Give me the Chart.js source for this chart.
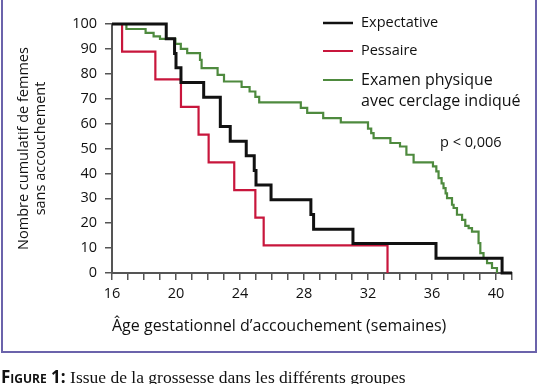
<!DOCTYPE html>
<html>
<head>
<meta charset="utf-8">
<script src="https://cdn.jsdelivr.net/npm/chart.js@4.4.1/dist/chart.umd.min.js"></script>
<style>
  html, body { margin: 0; padding: 0; background: #fff; }
  body { width: 538px; height: 384px; position: relative; overflow: hidden; }
  #frame { position: absolute; left: 1px; top: -10px; width: 532px; height: 359px; border: 2px solid #6b63ab; }
  #km { position: absolute; left: 0; top: 0; }
  #caption { position: absolute; left: 1px; top: 368px; white-space: nowrap; font-size: 17.5px; line-height: 1; color: #111; font-family: "Liberation Serif", serif; }
  #caption b { font-family: "Open Sans", sans-serif; font-variant: small-caps; font-weight: 700; font-size: 17px; }
</style>
</head>
<body>
<div id="frame"></div>
<canvas id="km" width="538" height="384"></canvas>
<div id="caption"><b>Figure 1:</b> Issue de la grossesse dans les différents groupes</div>
<script>
// courbes de survie (semaines, % sans accouchement)
const expWeeks  = [16, 19.39, 19.91, 20.0, 20.31, 21.73, 22.77, 23.39, 24.39, 24.89, 25.0, 25.94, 28.43, 28.6, 31.06, 36.25, 40.38, 41];
const expValues = [100, 94.1, 88.2, 82.4, 76.5, 70.6, 58.8, 52.9, 47.1, 41.2, 35.3, 29.4, 23.5, 17.6, 11.8, 5.9, 0, 0];

const pesWeeks  = [16, 16.63, 18.71, 20.31, 21.41, 22.04, 23.64, 24.96, 25.48, 33.22];
const pesValues = [100, 88.9, 77.8, 66.7, 55.6, 44.4, 33.3, 22.2, 11.1, 0];

const exaWeeks  = [16, 16.9, 18.1, 18.6, 19.0, 19.96, 20.3, 20.7, 21.5, 21.6, 22.6, 23.0, 24.1, 24.6, 24.96, 25.2,
                   27.8, 28.2, 29.2, 30.3, 32.0, 32.2, 32.35, 33.4, 34.0, 34.4, 34.85, 36.06, 36.27, 36.41, 36.6,
                   36.72, 36.85, 36.94, 37.25, 37.35, 37.56, 37.88, 38.08, 38.29, 38.5, 38.91, 39.02, 39.22, 39.44, 39.75, 40.06];
const exaValues = [100, 98, 96.4, 95, 94, 92, 90, 88.3, 85.6, 82.3, 79.6, 76.9, 74.7, 72.9, 70.7, 68.5,
                   66.3, 64.3, 62.2, 60.5, 58, 56.2, 54.2, 52.2, 50.8, 47.5, 44.4, 42.8, 40.8, 38.1, 36,
                   34.1, 32, 30.1, 27.4, 26.1, 23.4, 21.3, 18.9, 18, 16.6, 12, 8, 6, 4, 2, 0];

const seriesNames = ['Expectative', 'Pessaire', ['Examen physique', 'avec cerclage indiqué']];
const xTickLabels = [16, 20, 24, 28, 32, 36, 40];
const pValue = 'p < 0,006';

const FONT = "'Open Sans', sans-serif";
const colors = ['#111111', '#c8163c', '#4e8a3e'];

function pts(xs, ys) {
    return xs.map((x, i) => ({ x: x, y: ys[i] }));
}

// légende + valeur p dessinées dans le graphique
const legendPlugin = {
    id: 'legendeKM',
    afterDraw(chart) {
        const ctx = chart.ctx;
        ctx.save();
        ctx.textBaseline = 'middle';
        ctx.fillStyle = '#111';
        const rows = [23, 51, 80];
        const widths = [2.5, 2, 2];
        seriesNames.forEach((name, i) => {
            ctx.strokeStyle = colors[i];
            ctx.lineWidth = widths[i];
            ctx.beginPath();
            ctx.moveTo(323, rows[i]);
            ctx.lineTo(353, rows[i]);
            ctx.stroke();
            const lines = Array.isArray(name) ? name : [name];
            ctx.font = (Array.isArray(name) ? '16px ' : '14.5px ') + FONT;
            lines.forEach((t, j) => ctx.fillText(t, 361, rows[i] + j * 21));
        });
        ctx.font = '14.5px ' + FONT;
        ctx.fillText(pValue, 440, 143);
        ctx.restore();
    }
};

new Chart(document.getElementById('km'), {
    type: 'line',
    data: {
        datasets: [
            { label: seriesNames[0], data: pts(expWeeks, expValues), borderColor: colors[0], borderWidth: 3 },
            { label: seriesNames[1], data: pts(pesWeeks, pesValues), borderColor: colors[1], borderWidth: 2.2 },
            { label: seriesNames[2].join(' '), data: pts(exaWeeks, exaValues), borderColor: colors[2], borderWidth: 2.2 }
        ].map(d => Object.assign(d, { stepped: true, pointRadius: 0, fill: false, clip: false, tension: 0 }))
    },
    options: {
        responsive: false,
        animation: false,
        devicePixelRatio: 1,
        layout: { padding: { left: 8, right: 26, top: 24, bottom: 48 } },
        plugins: { legend: { display: false }, tooltip: { enabled: false } },
        scales: {
            x: {
                type: 'linear',
                min: 16,
                max: 41,
                afterFit: s => { s.height = 63; },
                border: { display: true, color: '#555', width: 2 },
                grid: { drawOnChartArea: false, drawTicks: true, tickLength: 7, color: '#555', lineWidth: 1.5 },
                ticks: {
                    stepSize: 1,
                    autoSkip: false,
                    maxRotation: 0,
                    padding: 5,
                    color: '#111',
                    font: { family: FONT, size: 14.5 },
                    callback: v => xTickLabels.includes(v) ? String(v) : ''
                },
                title: {
                    display: true,
                    align: 'start',
                    text: 'Âge gestationnel d’accouchement (semaines)',
                    color: '#111',
                    padding: { top: 0, bottom: 0 },
                    font: { family: FONT, size: 16 }
                }
            },
            y: {
                min: 0,
                max: 100,
                afterFit: s => { s.width = 104; },
                border: { display: true, color: '#555', width: 2 },
                grid: { drawOnChartArea: false, drawTicks: true, tickLength: 7, color: '#555', lineWidth: 1.5 },
                ticks: {
                    stepSize: 10,
                    padding: 8,
                    color: '#111',
                    font: { family: FONT, size: 14.5 }
                },
                title: {
                    display: true,
                    text: ['Nombre cumulatif de femmes', 'sans accouchement'],
                    color: '#111',
                    padding: { top: 7, bottom: 0 },
                    font: { family: FONT, size: 14.5 }
                }
            }
        }
    },
    plugins: [legendPlugin]
});
</script>
</body>
</html>
